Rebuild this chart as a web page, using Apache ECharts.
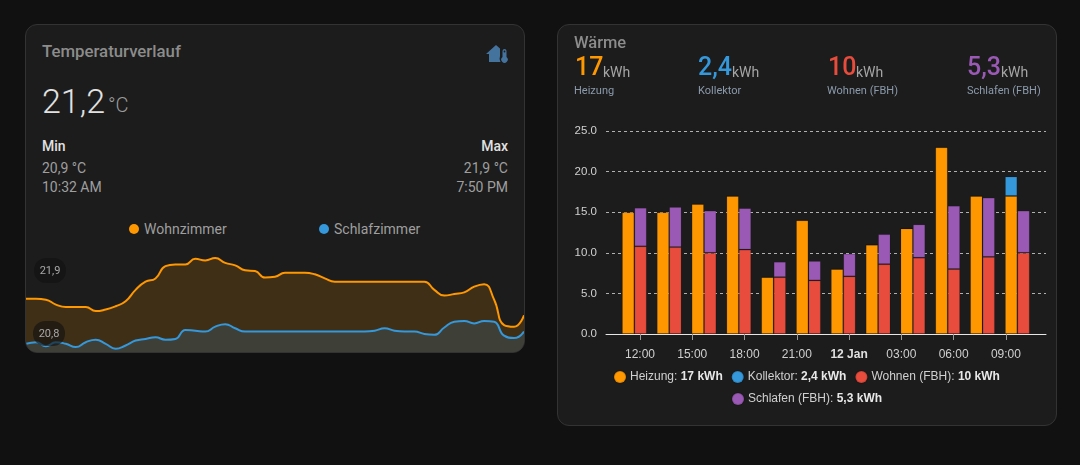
<!DOCTYPE html>
<html><head><meta charset="utf-8">
<style>
html,body{margin:0;padding:0;width:1080px;height:465px;background:#111;overflow:hidden;font-family:Roboto,sans-serif}
.card{position:absolute;background:#1c1c1c;border:1px solid #333;border-radius:12px;box-sizing:border-box;overflow:hidden}
.t{position:absolute;white-space:nowrap;line-height:20px}
.dot{position:absolute;width:10px;height:10px;border-radius:50%}
.pill{position:absolute;background:rgba(17,17,17,.62);color:#a8a8a8;font-size:11px;border-radius:12px;width:32px;height:25px;line-height:25px;text-align:center;z-index:5}
</style>
<script src="https://cdn.jsdelivr.net/npm/echarts@6/dist/echarts.min.js"></script>
</head><body>
<div class="card" style="left:25px;top:24px;width:500px;height:329px" id="cardL">
  <div id="lineChart" style="position:absolute;left:0;top:215px;width:498px;height:112px"></div>
  <div class="pill" style="left:8px;top:233px">21,9</div>
  <div class="pill" style="left:7px;top:296px">20,8</div>
</div>
<div class="card" style="left:557px;top:24px;width:500px;height:402px">
  <div id="barChart" style="position:absolute;left:0;top:0;width:498px;height:400px"></div>
</div>
<div id="txt"></div>
<svg style="position:absolute;left:485px;top:43px" width="24" height="21" viewBox="0 0 24 21">
 <path d="M1 11 L11 2 L15 5.6 L15 13 Q14 15 15.5 19 L4 19 L4 11 Z" fill="#44739e"/>
 <path d="M17.5 8 a2 2 0 0 1 4 0 v6 a3.2 3.2 0 1 1 -4 0 Z" fill="#44739e"/>
 <circle cx="19.5" cy="8.5" r="0.9" fill="#1c1c1c"/>
</svg>
<script>
var wohnzimmer=[21.40,21.40,21.39,21.33,21.30,21.30,21.30,21.25,21.27,21.31,21.37,21.51,21.61,21.65,21.80,21.82,21.82,21.89,21.87,21.90,21.84,21.81,21.75,21.74,21.66,21.67,21.72,21.72,21.72,21.70,21.65,21.61,21.61,21.61,21.61,21.61,21.61,21.61,21.61,21.61,21.61,21.51,21.44,21.46,21.48,21.55,21.58,21.39,21.08,21.06,21.20];
var schlafzimmer=[20.85,20.87,20.82,20.87,20.85,20.81,20.87,20.90,20.85,20.79,20.83,20.89,20.91,20.93,20.90,20.91,21.02,21.01,21.00,21.06,21.09,21.04,21.00,21.00,21.00,21.00,21.00,21.00,21.00,21.00,21.00,21.00,21.00,21.00,21.00,21.01,21.04,21.01,21.00,21.00,20.97,20.96,21.05,21.12,21.13,21.10,21.13,21.12,20.95,20.92,21.00];
var barTimes=['2024-01-11T11:40Z','2024-01-11T13:40Z','2024-01-11T15:40Z','2024-01-11T17:40Z','2024-01-11T19:40Z','2024-01-11T21:40Z','2024-01-11T23:40Z','2024-01-12T01:40Z','2024-01-12T03:40Z','2024-01-12T05:40Z','2024-01-12T07:40Z','2024-01-12T09:40Z'];
var heizung=[15,15,16,17,7,14,8,11,13,23,17,17];
var kollektor=[0,0,0,0,0,0,0,0,0,0,0,2.4];
var wohnen=[10.8,10.7,10,10.4,7,6.6,7.1,8.6,9.4,8,9.5,10];
var schlafen=[4.75,4.95,5.2,5.1,1.9,2.4,2.8,3.7,4.1,7.8,7.3,5.2];
var tickHours=[12,15,18,21,24,27,30,33];
var tickLabels=['12:00','15:00','18:00','21:00','12 Jan','03:00','06:00','09:00'];
var totals={Heizung:'17 kWh',Kollektor:'2,4 kWh','Wohnen (FBH)':'10 kWh','Schlafen (FBH)':'5,3 kWh'};
var ORANGE='#ff9800',BLUE='#3498db',RED='#e74c3c',PURPLE='#9b59b6';

var texts=[
 [42,41,'Temperaturverlauf',16.8,500,'#8c8c8c'],
 [42,91,'21,2',34,300,'#e1e1e1'],
 [108,95,'°C',20,300,'#9b9b9b'],
 [42,136,'Min',14,500,'#e1e1e1'],
 [42,158,'20,9 °C',14,400,'#9f9f9f'],
 [42,177,'10:32 AM',14,400,'#9f9f9f'],
 [144,219,'Wohnzimmer',14,400,'#9f9f9f'],
 [334,219,'Schlafzimmer',14,400,'#9f9f9f'],
 [574,33,'Wärme',16.5,500,'#8c8c8c'],
 [575,57,'17',25,500,ORANGE],[603,62,'kWh',14,400,'#a5a5a5'],[574,81,'Heizung',11,400,'#8b9aab'],
 [698,57,'2,4',25,500,BLUE],[732,62,'kWh',14,400,'#a5a5a5'],[698,81,'Kollektor',11,400,'#8b9aab'],
 [828,57,'10',25,500,RED],[856,62,'kWh',14,400,'#a5a5a5'],[827,81,'Wohnen (FBH)',11,400,'#8b9aab'],
 [967,57,'5,3',25,500,PURPLE],[1001,62,'kWh',14,400,'#a5a5a5'],[967,81,'Schlafen (FBH)',11,400,'#8b9aab']
];
var rightTexts=[[508,136,'Max',14,500,'#e1e1e1'],[508,158,'21,9 °C',14,400,'#9f9f9f'],[508,177,'7:50 PM',14,400,'#9f9f9f']];
var box=document.getElementById('txt'),h='';
texts.forEach(function(a){h+='<div class="t" style="left:'+a[0]+'px;top:'+a[1]+'px;font-size:'+a[3]+'px;font-weight:'+a[4]+';color:'+a[5]+'">'+a[2]+'</div>';});
rightTexts.forEach(function(a){h+='<div class="t" style="right:'+(1080-a[0])+'px;top:'+a[1]+'px;font-size:'+a[3]+'px;font-weight:'+a[4]+';color:'+a[5]+'">'+a[2]+'</div>';});
h+='<div class="dot" style="left:129px;top:224px;background:'+ORANGE+'"></div><div class="dot" style="left:319px;top:224px;background:'+BLUE+'"></div>';
box.innerHTML=h;

function lineSeries(name,vals,color){return {name:name,type:'line',data:vals,smooth:0.5,symbol:'none',lineStyle:{color:color,width:2},areaStyle:{color:color,opacity:name==='Wohnzimmer'?0.16:0.17},animation:false};}
var lc=echarts.init(document.getElementById('lineChart'),null,{renderer:'canvas'});
lc.setOption({animation:false,grid:{left:0,right:0,top:0,bottom:0},
 xAxis:{type:'category',show:false,boundaryGap:false,data:wohnzimmer.map(function(_,i){return i;})},
 yAxis:{type:'value',show:false,min:20.75,max:22.12,splitLine:{show:false}},
 series:[lineSeries('Wohnzimmer',wohnzimmer,ORANGE),lineSeries('Schlafzimmer',schlafzimmer,BLUE)]});

var ms=function(s){return Date.parse(s);};
function pairs(v){return v.map(function(y,i){return [ms(barTimes[i]),y];});}
function barSeries(name,vals,color,stack){return {name:name,type:'bar',stack:stack,data:pairs(vals),barWidth:12.4,barGap:'0%',xAxisIndex:0,itemStyle:{color:color,borderColor:'rgba(0,0,0,0.12)',borderWidth:1}};}
var bc=echarts.init(document.getElementById('barChart'),null,{renderer:'canvas',useUTC:true});
var FF='Liberation Sans, Arial, sans-serif';
var legendBase={orient:'horizontal',icon:'circle',itemWidth:12,itemHeight:12,itemGap:8,selectedMode:false,padding:0,
 formatter:function(n){return n+': {b|'+totals[n]+'}';},
 textStyle:{color:'#d0d0d0',fontFamily:FF,fontSize:12,padding:[0,0,0,-1],rich:{b:{color:'#e8e8e8',fontWeight:'bold',fontFamily:FF,fontSize:12}}}};
bc.setOption({animation:false,useUTC:true,
 legend:[
  Object.assign({},legendBase,{left:55,top:345,data:['Heizung','Kollektor','Wohnen (FBH)']}),
  Object.assign({},legendBase,{left:173,top:367,data:['Schlafen (FBH)']})],
 grid:{left:48,right:10,top:106,height:203},
 xAxis:[
 {type:'time',min:ms('2024-01-11T10:45Z'),max:ms('2024-01-12T10:36Z'),show:false,splitLine:{show:false}},
 {type:'value',position:'bottom',min:10.05,max:35.3,splitLine:{show:false},
  axisLine:{show:true,onZero:false,lineStyle:{color:'#e6e6e6',width:1}},
  axisTick:{show:true,length:6,customValues:tickHours,lineStyle:{color:'#999'}},
  axisLabel:{show:true,customValues:tickHours,margin:15,color:'#d0d0d0',fontFamily:FF,fontSize:12,hideOverlap:false,
   formatter:function(v){var i=tickHours.indexOf(+v);var s=tickLabels[i];return s==='12 Jan'?'{b|'+s+'}':s;},
   rich:{b:{fontWeight:'bold',color:'#e0e0e0',fontFamily:FF,fontSize:12}}}}],
 yAxis:{type:'value',min:0,max:25,interval:5,axisLine:{show:false},axisTick:{show:false},
  axisLabel:{margin:9,color:'#d0d0d0',fontFamily:FF,fontSize:11.5,formatter:function(v){return v.toFixed(1);}},
  splitLine:{show:true,lineStyle:{color:'#b0b0b0',type:[3,3],width:1}}},
 series:[barSeries('Heizung',heizung,ORANGE,'a'),barSeries('Kollektor',kollektor,BLUE,'a'),barSeries('Wohnen (FBH)',wohnen,RED,'b'),barSeries('Schlafen (FBH)',schlafen,PURPLE,'b')]});
</script>
</body></html>
